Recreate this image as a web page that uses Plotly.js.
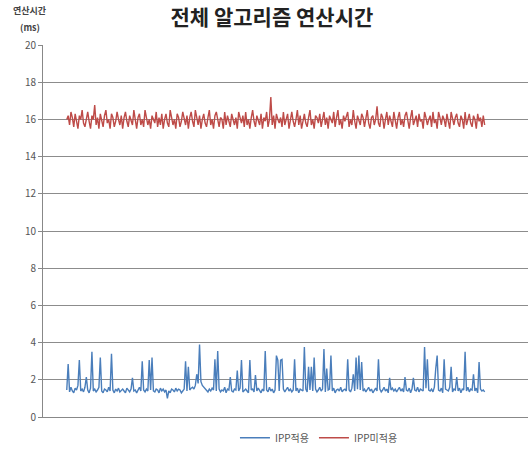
<!DOCTYPE html>
<html>
<head>
<meta charset="utf-8">
<script src="https://cdn.plot.ly/plotly-3.0.1.min.js"></script>
<style>html,body{margin:0;padding:0;background:#fff;}#chart{width:528px;height:449px;}</style>
</head>
<body>
<div id="chart"></div>
<script>
const seriesNames = ["IPP적용", "IPP미적용"];
const chartTitle = "전체 알고리즘 연산시간";
const yTitleLine1 = "연산시간";
const yTitleLine2 = "(ms)";
const yTicks = [0, 2, 4, 6, 8, 10, 12, 14, 16, 18, 20];

const ippApplied = [
1.45,2.85,1.35,1.6,1.4,1.3,1.55,1.45,1.7,3.06,1.4,1.5,1.35,1.6,2.15,1.45,1.3,1.55,3.5,1.4,
1.5,1.35,1.45,1.6,3.2,1.4,1.3,1.5,1.45,1.35,1.6,1.4,3.4,1.45,1.3,1.5,1.4,1.55,1.35,1.45,
1.5,1.4,1.3,1.55,1.45,1.35,1.5,2.1,1.4,1.45,1.3,1.5,1.6,1.4,3.0,1.45,1.35,1.5,1.4,3.06,
1.45,3.2,1.4,1.35,1.5,1.45,1.3,1.55,1.4,1.5,1.35,1.45,1.0,1.4,1.3,1.5,1.45,1.35,1.55,1.4,
1.5,1.45,1.3,1.4,1.5,3.0,1.4,2.7,1.45,1.55,1.6,1.5,1.7,2.3,1.8,3.9,1.9,1.7,1.6,1.5,
1.45,1.35,1.5,1.4,1.55,1.45,3.1,1.4,3.55,1.5,1.35,1.45,1.4,1.6,1.3,1.5,1.45,2.15,1.4,1.35,
1.5,1.45,2.5,1.4,1.55,3.06,1.35,1.45,1.5,1.4,1.3,3.06,1.45,1.5,1.35,2.26,1.4,1.55,1.45,1.3,
1.5,1.4,3.55,1.45,1.35,1.6,1.4,1.5,1.3,1.45,3.3,3.06,1.4,3.06,3.1,1.5,1.35,1.45,1.6,1.4,
1.5,1.35,1.45,3.1,1.4,1.55,1.3,1.5,1.45,1.4,3.76,1.5,1.35,2.7,1.45,2.7,1.4,3.2,1.5,1.35,
1.45,1.6,1.4,1.5,3.65,1.35,2.6,1.45,1.5,3.3,1.4,1.55,1.3,1.45,1.5,1.4,1.6,1.35,1.45,1.5,
1.4,3.1,1.45,1.35,1.55,2.3,1.4,3.2,1.5,3.3,1.45,2.95,1.4,1.5,1.35,1.45,1.6,1.4,1.5,1.3,
1.45,1.55,1.4,3.1,1.5,1.35,1.45,1.6,1.4,1.5,1.3,2.1,1.45,1.55,1.4,1.5,1.35,1.45,1.6,1.4,
1.5,1.35,2.15,1.45,1.4,1.55,1.3,1.5,2.1,1.45,1.4,1.6,1.35,1.5,1.45,1.4,3.76,1.55,3.1,1.45,
1.4,1.5,1.35,1.6,2.6,3.3,1.45,1.4,1.55,1.3,3.1,1.5,1.45,1.4,1.6,2.7,1.35,1.5,1.45,2.15,
1.4,1.55,1.3,1.5,1.45,3.5,1.4,1.6,1.35,1.5,1.45,2.3,1.4,1.55,1.3,2.95,1.5,1.4,1.45,1.35
];

const ippNotApplied = [
16.0,16.2,15.7,16.4,16.1,15.6,16.3,15.9,15.5,16.2,16.0,16.5,15.8,15.6,16.1,16.4,15.9,15.5,16.2,16.0,
16.77,15.7,16.1,15.5,16.3,15.9,15.6,16.2,16.5,15.8,16.0,15.5,16.3,16.1,15.6,15.9,16.4,16.0,15.7,16.2,
15.5,16.1,16.4,15.9,15.6,16.2,16.0,15.7,16.5,15.9,15.5,16.1,16.3,15.7,16.0,15.6,16.5,16.1,15.7,16.0,
15.5,16.2,16.0,15.8,16.4,15.6,16.1,15.7,16.3,15.5,16.0,16.3,15.8,15.6,16.5,16.1,15.7,16.0,15.5,16.3,
16.1,15.6,15.9,16.4,16.0,15.7,16.2,15.5,16.1,16.4,15.9,15.6,16.5,16.0,15.7,16.2,15.5,16.0,16.3,15.8,
15.6,16.1,16.5,15.7,16.0,15.5,16.2,16.4,15.9,15.6,16.1,16.0,15.5,16.4,15.7,16.2,15.9,15.6,16.3,16.0,
15.7,16.1,15.5,16.4,16.0,15.8,16.2,15.6,16.4,15.7,16.0,15.5,16.1,16.5,15.9,15.6,16.2,16.0,15.7,16.3,
15.5,16.1,15.9,16.4,15.6,16.0,17.2,15.7,16.2,15.5,16.3,16.0,15.8,16.1,15.6,16.4,15.7,16.0,16.3,15.5,
16.1,16.4,15.9,15.6,16.0,16.5,15.7,16.2,15.5,16.0,16.3,15.8,15.6,16.1,16.5,15.7,16.0,15.5,16.2,16.1,
15.8,16.3,15.6,16.0,16.4,15.7,16.1,15.5,16.2,16.0,15.8,16.4,15.6,16.1,16.5,15.7,16.0,15.5,16.2,15.9,
16.1,16.4,15.6,16.0,15.7,16.5,15.9,15.5,16.2,16.0,15.7,16.3,16.1,15.6,16.0,16.5,15.8,15.5,16.1,16.2,
15.7,16.0,16.7,15.8,15.6,16.3,16.1,15.5,16.0,16.4,15.7,16.2,15.9,15.6,16.4,16.0,15.5,16.1,16.4,15.7,
16.0,15.6,16.2,16.4,15.8,15.5,16.1,16.5,15.7,16.0,16.2,15.6,16.3,15.9,16.0,15.5,16.4,16.1,15.7,16.0,
16.2,15.6,16.4,15.8,16.0,15.5,16.4,16.1,15.7,16.2,16.0,15.6,16.3,15.9,15.5,16.4,16.0,15.7,16.1,16.3,
15.8,15.6,16.2,16.0,15.5,16.4,15.7,16.1,16.3,15.8,15.6,16.2,16.0,15.5,16.3,15.9,16.1,15.6,16.2,15.7
];

const xIdx = ippApplied.map((_, i) => i + 1);

const font = "'Noto Sans CJK KR', 'Noto Sans', sans-serif";

const traces = [
  {x: xIdx, y: ippApplied, name: seriesNames[0], type: 'scatter', mode: 'lines',
   line: {color: '#4a7ebb', width: 1.4}},
  {x: xIdx, y: ippNotApplied, name: seriesNames[1], type: 'scatter', mode: 'lines',
   line: {color: '#be4b48', width: 1.4}}
];

const layout = {
  width: 528, height: 449,
  margin: {l: 43, r: 0, t: 45, b: 32, pad: 0},
  paper_bgcolor: '#fff', plot_bgcolor: '#fff',
  font: {family: font, color: '#555', size: 10},
  title: {text: '<b>' + chartTitle + '</b>', font: {family: font, size: 21, color: '#222'},
          x: 0.515, xref: 'container', xanchor: 'center', y: 0.96, yref: 'container', yanchor: 'middle'},
  showlegend: true,
  legend: {orientation: 'h', xref: 'container', x: 0.445, xanchor: 'left',
           yref: 'container', y: 0.025, yanchor: 'middle',
           font: {family: font, size: 10, color: '#555'}, itemwidth: 30, tracegroupgap: 0},
  xaxis: {range: [-16, 331], showticklabels: false, ticks: '', showgrid: false,
          zeroline: false, showline: true, linecolor: '#888', linewidth: 1},
  yaxis: {range: [0, 20], tickvals: yTicks, ticktext: yTicks.map(String),
          showgrid: true, gridcolor: '#8c8c8c', gridwidth: 1, zeroline: false,
          showline: true, linecolor: '#888', linewidth: 1, ticks: 'outside', ticklen: 4,
          tickcolor: '#888', tickfont: {family: font, size: 10, color: '#555'}},
  annotations: [
    {text: '<b>' + yTitleLine1 + '</b>', xref: 'paper', yref: 'paper', x: (30 - 43) / 485, y: (417 - 10) / 372,
     xanchor: 'center', yanchor: 'middle', showarrow: false,
     font: {family: font, size: 9, color: '#444'}},
    {text: '<b>' + yTitleLine2 + '</b>', xref: 'paper', yref: 'paper', x: (30 - 43) / 485, y: (417 - 27) / 372,
     xanchor: 'center', yanchor: 'middle', showarrow: false,
     font: {family: font, size: 9, color: '#444'}}
  ]
};

Plotly.newPlot('chart', traces, layout, {staticPlot: true, displayModeBar: false});
</script>
</body>
</html>
